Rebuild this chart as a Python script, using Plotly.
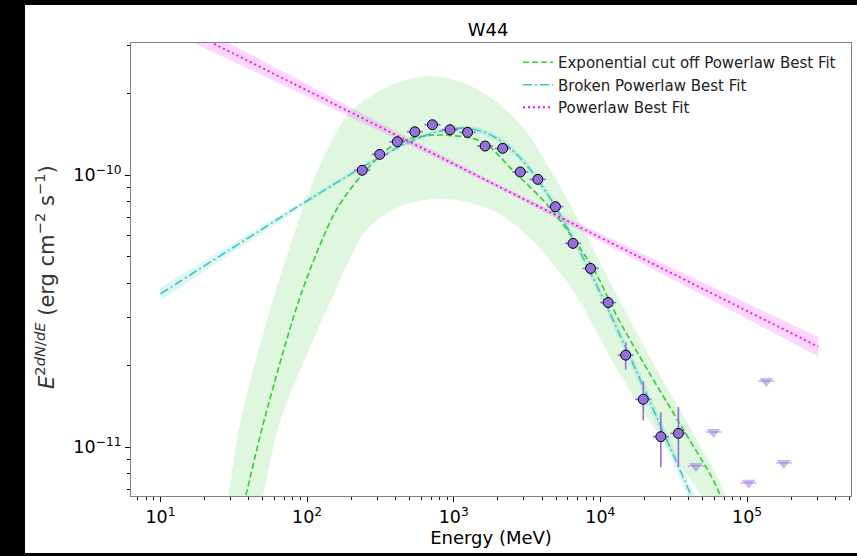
import numpy as np
import plotly.graph_objects as go

# ---------------- data ----------------
ENERGY_MEV = [237.5, 312.8, 412.2, 543.0, 715.5, 942.8, 1242, 1637, 2157, 2842,
              3745, 4935, 6503, 8568, 11290, 14877, 19603, 25830, 34036]
FLUX = [1.041e-10, 1.191e-10, 1.325e-10, 1.442e-10, 1.530e-10, 1.467e-10, 1.435e-10,
        1.278e-10, 1.253e-10, 1.026e-10, 9.64e-11, 7.65e-11, 5.61e-11, 4.54e-11,
        3.40e-11, 2.18e-11, 1.50e-11, 1.094e-11, 1.125e-11]
FLUX_ERR = [2.0e-12, 2.0e-12, 2.0e-12, 2.0e-12, 2.0e-12, 2.0e-12, 2.0e-12, 2.0e-12,
            2.0e-12, 2.0e-12, 2.0e-12, 1.9e-12, 1.9e-12, 2.4e-12, 1.8e-12, 2.5e-12,
            2.45e-12, 2.5e-12, 2.8e-12]
UL_ENERGY_MEV = [44848, 59094, 102590, 135180, 178130]
UL_FLUX = [8.54e-12, 1.138e-11, 7.40e-12, 1.751e-11, 8.76e-12]
BIN_HALF_WIDTH_DEX = 0.055

# Powerlaw best fit
PL_PIVOT_MEV = 404.5
PL_FLUX_PIVOT = 1.402e-10
PL_INDEX = 2.270
PL_BAND_MIN_DEX = 0.008
PL_BAND_GROWTH_DEX = 0.016
PL_BAND_PIVOT_MEV = 2000.0

# Broken powerlaw best fit (smoothly broken)
BPL_BREAK_MEV = 2371.0
BPL_FLUX_BREAK = 2.402e-10
BPL_INDEX1 = 1.656
BPL_INDEX2 = 3.25
BPL_SMOOTH = 0.92
BPL_BAND_MIN_DEX = 0.006
BPL_BAND_GROWTH_DEX = 0.014
BPL_BAND_PIVOT_MEV = 400.0

MODEL_EMIN, MODEL_EMAX = 10.0, 3.06e5

# Exponential cut off powerlaw curve and its band (log10 E [MeV], log10 E^2dN/dE)
ECPL_LOGE = [1.48, 1.5816, 1.7075, 1.9605, 2.1986, 2.4027, 2.6068, 2.8673, 3.1959,
             3.4000, 3.6497, 3.9442, 4.1259, 4.3299, 4.5340, 4.7585, 4.8197, 5.0]
ECPL_LOGF = [-11.40, -11.1789, -10.8997, -10.4344, -10.1285, -9.9816, -9.8836, -9.8531,
             -9.8777, -9.9816, -10.1164, -10.3368, -10.5325, -10.7235, -10.9071,
             -11.1091, -11.1789, -11.40]
ECPL_UP_LOGE = [1.395, 1.464, 1.548, 1.767, 2.017, 2.153, 2.289, 2.561, 2.833, 3.071,
                3.276, 3.480, 3.670, 3.854, 4.035, 4.330, 4.602, 4.7925, 4.854, 5.02]
ECPL_UP_LOGF = [-11.40, -11.175, -10.900, -10.459, -10.055, -9.890, -9.770, -9.672,
                -9.636, -9.662, -9.725, -9.830, -9.990, -10.170, -10.360, -10.661,
                -10.918, -11.102, -11.179, -11.40]
ECPL_LO_LOGE = [1.605, 1.701, 1.818, 2.165, 2.403, 2.629, 2.854, 3.083, 3.310, 3.534,
                3.763, 3.854, 4.103, 4.330, 4.688, 4.97]
ECPL_LO_LOGF = [-11.40, -11.175, -10.900, -10.459, -10.202, -10.116, -10.088, -10.098,
                -10.141, -10.239, -10.386, -10.459, -10.704, -10.900, -11.175, -11.40]

X_TICKS = [10, 100, 1000, 1e4, 1e5]
X_TICKTEXT = ["10<sup>1</sup>", "10<sup>2</sup>", "10<sup>3</sup>", "10<sup>4</sup>", "10<sup>5</sup>"]
Y_TICKS = [1e-11, 1e-10]
Y_TICKTEXT = ["10<sup>\u221211</sup>", "10<sup>\u221210</sup>"]
Y_LABEL = ("<i>E</i><sup>2<i>dN</i>/<i>dE</i></sup> (erg cm<sup>\u22122</sup> "
           "s<sup>\u22121</sup>)")

GREEN = "#32CD32"
CYAN = "#3fc6c6"
MAGENTA = "#ff00ff"
PURPLE = "#9370DB"
FONT = "DejaVu Sans"

# ---------------- model evaluation ----------------
e_model = np.logspace(np.log10(MODEL_EMIN), np.log10(MODEL_EMAX), 400)
le = np.log10(e_model)

pl = PL_FLUX_PIVOT * (e_model / PL_PIVOT_MEV) ** (2 - PL_INDEX)
pl_w = np.sqrt(PL_BAND_MIN_DEX**2 + (PL_BAND_GROWTH_DEX * (le - np.log10(PL_BAND_PIVOT_MEV)))**2)

s1, s2 = 2 - BPL_INDEX1, 2 - BPL_INDEX2
d = le - np.log10(BPL_BREAK_MEV)
bpl_log = (np.log10(BPL_FLUX_BREAK) + s1 * d
           - BPL_SMOOTH * np.log10(1 + 10 ** ((s1 - s2) * d / BPL_SMOOTH)))
bpl = 10 ** bpl_log
bpl_w = np.sqrt(BPL_BAND_MIN_DEX**2 + (BPL_BAND_GROWTH_DEX * (le - np.log10(BPL_BAND_PIVOT_MEV)))**2)

fig = go.Figure()

# bands
band_x = [10**v for v in ECPL_UP_LOGE] + [10**v for v in reversed(ECPL_LO_LOGE)]
band_y = [10**v for v in ECPL_UP_LOGF] + [10**v for v in reversed(ECPL_LO_LOGF)]
fig.add_trace(go.Scatter(x=band_x, y=band_y, fill="toself", mode="lines",
                         line=dict(width=0, shape="spline", smoothing=0.8),
                         fillcolor="rgba(50,205,50,0.16)", showlegend=False, hoverinfo="skip"))
fig.add_trace(go.Scatter(x=np.concatenate([e_model, e_model[::-1]]),
                         y=np.concatenate([bpl * 10**bpl_w, (bpl / 10**bpl_w)[::-1]]),
                         fill="toself", mode="lines", line=dict(width=0),
                         fillcolor="rgba(64,200,200,0.18)", showlegend=False, hoverinfo="skip"))
fig.add_trace(go.Scatter(x=np.concatenate([e_model, e_model[::-1]]),
                         y=np.concatenate([pl * 10**pl_w, (pl / 10**pl_w)[::-1]]),
                         fill="toself", mode="lines", line=dict(width=0),
                         fillcolor="rgba(255,0,255,0.16)", showlegend=False, hoverinfo="skip"))

# model lines
fig.add_trace(go.Scatter(x=[10**v for v in ECPL_LOGE], y=[10**v for v in ECPL_LOGF],
                         mode="lines", name="Exponential cut off Powerlaw Best Fit",
                         line=dict(color=GREEN, width=1.6, dash="6px,3px", shape="spline", smoothing=0.8),
                         legendgroup="a"))
fig.add_trace(go.Scatter(x=e_model, y=bpl, mode="lines", name="Broken Powerlaw Best Fit",
                         line=dict(color=CYAN, width=1.6, dash="9px,3px,2px,3px"),
                         legendgroup="b"))
fig.add_trace(go.Scatter(x=e_model, y=pl, mode="lines", name="Powerlaw Best Fit",
                         line=dict(color=MAGENTA, width=1.8, dash="2px,3px"),
                         legendgroup="c"))

# upper limits
ul_e = np.array(UL_ENERGY_MEV, dtype=float)
fig.add_trace(go.Scatter(x=ul_e, y=UL_FLUX, mode="markers", showlegend=False,
                         marker=dict(symbol="triangle-down", size=12,
                                     color="rgba(147,112,219,0.5)", line=dict(width=0)),
                         error_x=dict(type="data", symmetric=False,
                                      array=ul_e * (10**BIN_HALF_WIDTH_DEX - 1),
                                      arrayminus=ul_e * (1 - 10**-BIN_HALF_WIDTH_DEX),
                                      color="rgba(147,112,219,0.5)", thickness=1.5, width=0)))

# data points
e = np.array(ENERGY_MEV, dtype=float)
fig.add_trace(go.Scatter(x=e, y=FLUX, mode="markers", showlegend=False,
                         marker=dict(symbol="circle", size=10, color=PURPLE,
                                     line=dict(color="black", width=1)),
                         error_y=dict(type="data", array=FLUX_ERR, color=PURPLE,
                                      thickness=1.6, width=0),
                         error_x=dict(type="data", symmetric=False,
                                      array=e * (10**BIN_HALF_WIDTH_DEX - 1),
                                      arrayminus=e * (1 - 10**-BIN_HALF_WIDTH_DEX),
                                      color=PURPLE, thickness=1.6, width=0)))

# ---------------- layout ----------------
W, H = 857, 556
L, R, T, B = 131, 6, 43, 60
pw, ph = W - L - R, H - T - B

def px_to_paper(x, y):
    return (x - L) / pw, (H - B - y) / ph

x0, y1 = px_to_paper(25, 5)
x1, y0 = px_to_paper(857, 553)
lab_x, lab_y = px_to_paper(45, 277)

minor_x = [k * 10**p for p in range(0, 6) for k in range(2, 10)]
minor_y = [k * 10**p for p in (-12, -11, -10) for k in range(2, 10)]

fig.update_layout(
    width=W, height=H,
    margin=dict(l=L, r=R, t=T, b=B, autoexpand=False),
    paper_bgcolor="black", plot_bgcolor="white",
    font=dict(family=FONT, color="black", size=16),
    title=dict(text="W44", x=488 / W, xref="container", xanchor="center",
               y=1 - 30 / H, yref="container", yanchor="middle",
               font=dict(size=18, family=FONT, color="black")),
    shapes=[dict(type="rect", xref="paper", yref="paper", x0=x0, x1=x1, y0=y0, y1=y1,
                 fillcolor="white", line=dict(width=0), layer="below")],
    annotations=[dict(text=Y_LABEL, xref="paper", yref="paper", x=lab_x, y=lab_y,
                      xanchor="center", yanchor="middle", textangle=-90, showarrow=False,
                      font=dict(size=21, family=FONT, color="#333"))],
    showlegend=True,
    legend=dict(x=(518 - L) / pw, y=px_to_paper(0, 46)[1], xanchor="left", yanchor="top",
                bgcolor="rgba(255,255,255,0)", borderwidth=0,
                font=dict(size=15, family=FONT, color="#222"), tracegroupgap=0,
                itemwidth=30),
    hovermode=False,
)

fig.update_xaxes(type="log", range=[0.799, 5.709], showgrid=False, zeroline=False,
                 showline=True, linecolor="#808080", linewidth=1, mirror=True,
                 tickmode="array", tickvals=X_TICKS, ticktext=X_TICKTEXT,
                 ticks="outside", ticklen=5, tickwidth=1, tickcolor="black",
                 tickfont=dict(size=17.5, family=FONT, color="black"),
                 minor=dict(tickmode="array", tickvals=minor_x, ticks="outside",
                            ticklen=3, tickwidth=1, tickcolor="black", showgrid=False),
                 title=dict(text="Energy (MeV)", standoff=4,
                            font=dict(size=18, family=FONT, color="black")))
fig.update_yaxes(type="log", range=[-11.179, -9.515], showgrid=False, zeroline=False,
                 showline=True, linecolor="#808080", linewidth=1, mirror=True,
                 tickmode="array", tickvals=Y_TICKS, ticktext=Y_TICKTEXT,
                 ticks="outside", ticklen=5, tickwidth=1, tickcolor="black",
                 tickfont=dict(size=17.5, family=FONT, color="black"),
                 minor=dict(tickmode="array", tickvals=minor_y, ticks="outside",
                            ticklen=3, tickwidth=1, tickcolor="black", showgrid=False))

fig.write_html("out.html")
